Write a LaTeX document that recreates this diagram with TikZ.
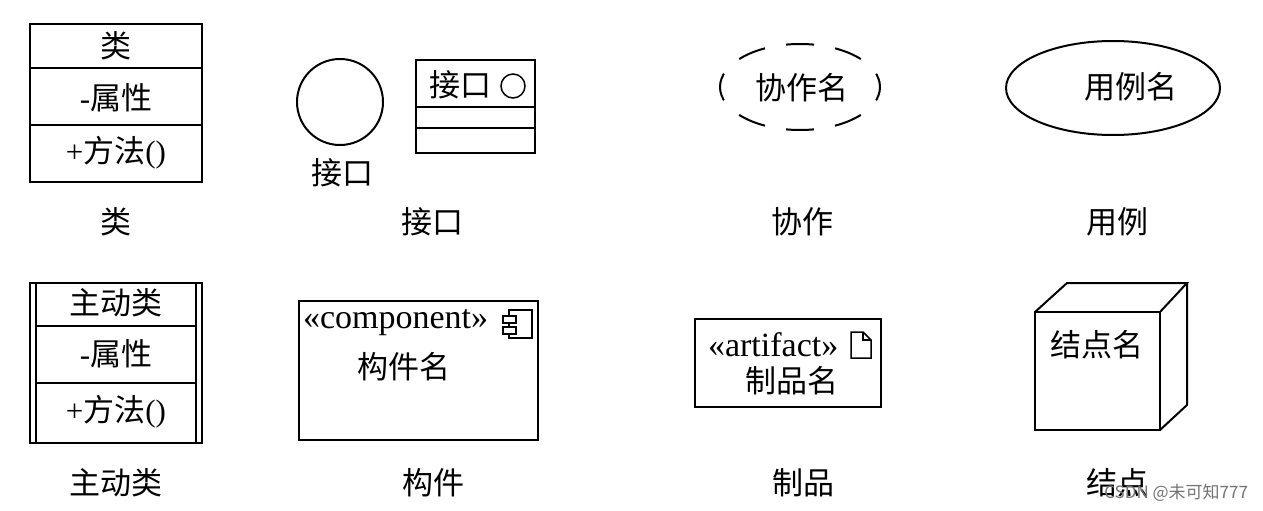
\documentclass[tikz,border=0pt]{standalone}
\usepackage{fontspec}
\setmainfont{Liberation Serif}
\newfontfamily\cjk{Noto Sans CJK SC}
\usetikzlibrary{shapes.geometric}
\begin{document}
\begin{tikzpicture}[x=1pt,y=-1pt, line width=2pt,
  lbl/.style={font=\cjk\fontsize{31}{31}\selectfont, inner sep=0pt},
  txt/.style={font=\fontsize{31}{31}\selectfont, inner sep=0pt},
  lat/.style={font=\fontsize{34}{34}\selectfont, inner sep=0pt},
  icon/.style={line width=1.5pt}]
\useasboundingbox (0,0) rectangle (1263,511);

% ---- Class
\draw (30,24) rectangle (202,182);
\draw (30,68) -- (202,68);
\draw (30,125) -- (202,125);
\node[lbl] (c1n) at (116,46) {类};
\node[txt] (c1a) at (116,98) {-{\cjk 属性}};
\node[txt] (c1m) at (116,153) {+{\cjk 方法}()};
\node[lbl] (c1l) at (116,222) {类};

% ---- Interface
\node[circle, draw, minimum size=86pt, inner sep=0pt] (ic) at (340,102) {};
\node[lbl] (icl) at (342,173) {接口};
\draw (416,60) rectangle (535,153);
\draw (416,107) -- (535,107);
\draw (416,128) -- (535,128);
\node[lbl] (ibn) at (460,85) {接口};
\node[circle, draw, icon, minimum size=24pt, inner sep=0pt] (ibc) at (513,86) {};
\node[lbl] (il) at (432,222) {接口};

% ---- Collaboration
\draw[dash pattern=on 28pt off 21.4pt, dash phase=14pt] (800,87) ellipse [x radius=80, y radius=43];
\node[lbl] (co) at (802,88) {协作名};
\node[lbl] (col) at (802,222) {协作};

% ---- Use case
\draw (1113,88) ellipse [x radius=107, y radius=47];
\node[lbl] (uc) at (1131,87) {用例名};
\node[lbl] (ucl) at (1117,222) {用例};

% ---- Active class
\draw (30,283) rectangle (202,443);
\draw (36,283) -- (36,443);
\draw (196,283) -- (196,443);
\draw (36,326) -- (196,326);
\draw (36,383) -- (196,383);
\node[lbl] (acn) at (116,303) {主动类};
\node[txt] (aca) at (116,354) {-{\cjk 属性}};
\node[txt] (acm) at (116,412) {+{\cjk 方法}()};
\node[lbl] (acl) at (116,483) {主动类};

% ---- Component
\draw (299,301) rectangle (538,440);
\node[lat, anchor=west] (cps) at (302,323) {«component»};
\draw[icon] (509,310) rectangle (532,338);
\draw[icon, fill=white] (503,316) rectangle (516,323);
\draw[icon, fill=white] (503,327) rectangle (516,334);
\node[lbl] (cpn) at (404,367) {构件名};
\node[lbl] (cpl) at (433,483) {构件};

% ---- Artifact
\draw (695,319) rectangle (881,407);
\node[lat, anchor=west] (ars) at (707,345) {«artifact»};
\draw[icon] (851,332) -- (863,332) -- (871,340) -- (871,358) -- (851,358) -- cycle;
\draw[icon] (863,332) -- (863,340) -- (871,340);
\node[lbl] (arn) at (792,381) {制品名};
\node[lbl] (arl) at (803,483) {制品};

% ---- Node
\draw (1035,312) rectangle (1160,430);
\draw (1035,312) -- (1067,283) -- (1187,283) -- (1160,312);
\draw (1187,283) -- (1187,405) -- (1160,430);
\node[lbl] (ndn) at (1097,345) {结点名};
\node[lbl] (ndl) at (1117,483) {结点};

% ---- watermark
\node[font=\cjk\fontsize{17}{17}\selectfont, text=black!55, anchor=east, inner sep=0pt] (wm) at (1249,493) {CSDN @未可知777};
\end{tikzpicture}
\end{document}
